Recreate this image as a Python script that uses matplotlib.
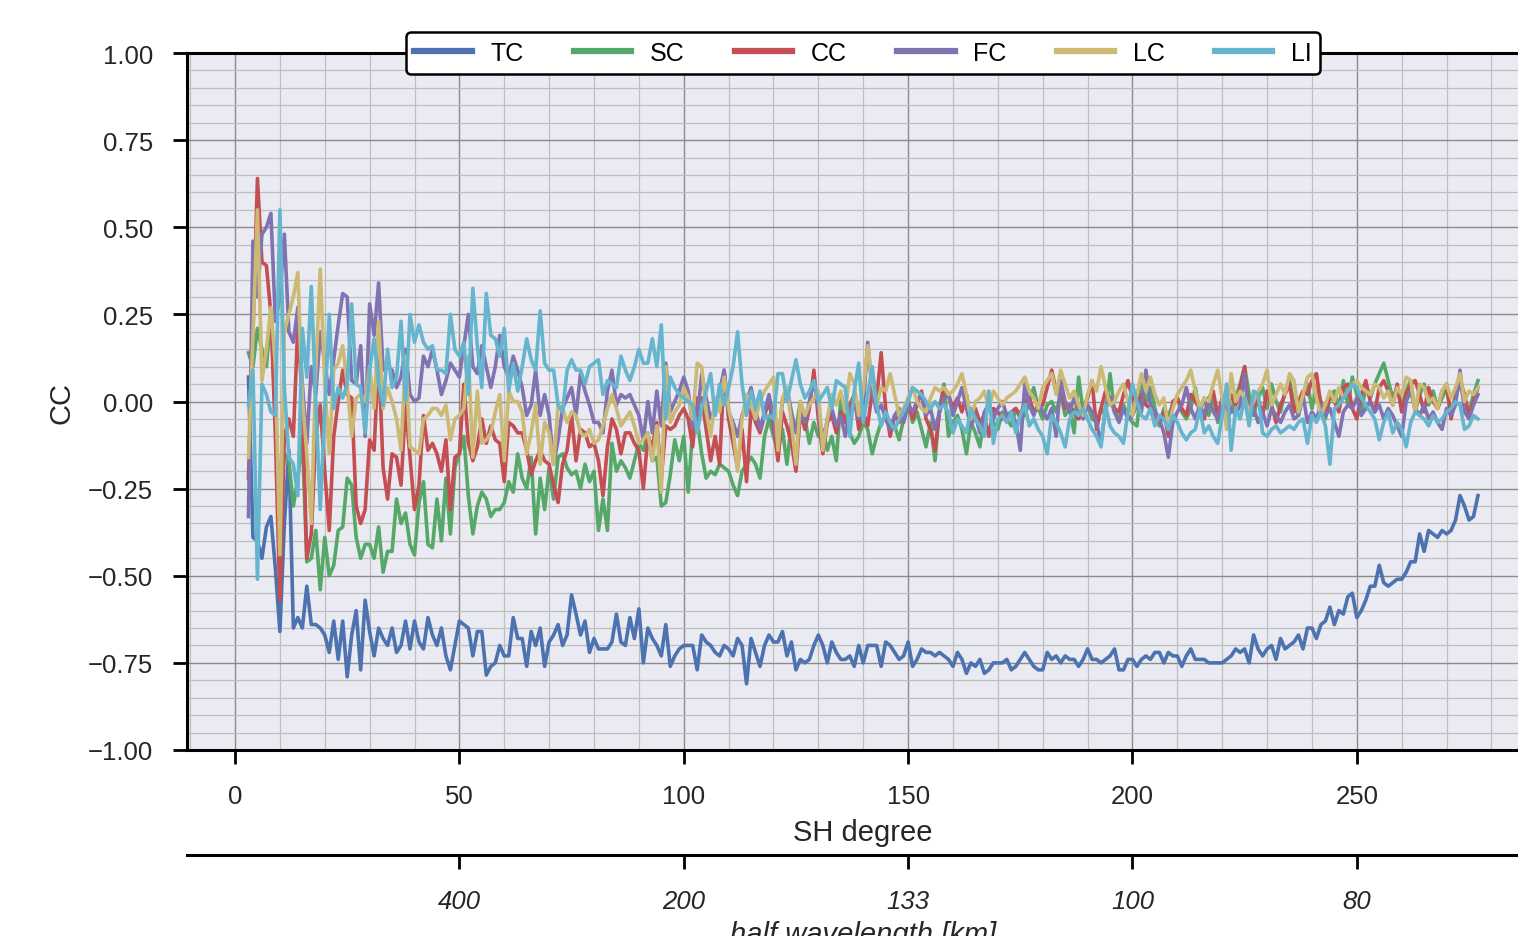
"""Correlation coefficients per SH degree for six geology layers."""
import numpy as np
import matplotlib
matplotlib.use("Agg")
import matplotlib.pyplot as plt
from matplotlib.ticker import MultipleLocator

plt.rcParams["font.family"] = ["Liberation Sans", "DejaVu Sans"]

# ── data ──────────────────────────────────────────────────────────────────────
degree = np.arange(3, 278)

tc = [
    0.07, -0.39, -0.40, -0.45, -0.36, -0.33, -0.48, -0.66, -0.35, -0.14,
    -0.65, -0.62, -0.65, -0.53, -0.64, -0.64, -0.65, -0.67, -0.72, -0.63,
    -0.74, -0.63, -0.79, -0.67, -0.60, -0.77, -0.57, -0.66, -0.73, -0.65,
    -0.68, -0.70, -0.65, -0.72, -0.70, -0.63, -0.71, -0.63, -0.69, -0.71,
    -0.62, -0.67, -0.70, -0.65, -0.73, -0.77, -0.70, -0.63, -0.64, -0.65,
    -0.73, -0.66, -0.66, -0.785, -0.76, -0.75, -0.70, -0.73, -0.73, -0.62,
    -0.68, -0.68, -0.76, -0.66, -0.70, -0.65, -0.76, -0.69, -0.67, -0.64,
    -0.70, -0.67, -0.555, -0.61, -0.67, -0.63, -0.72, -0.68, -0.71, -0.71,
    -0.71, -0.69, -0.61, -0.69, -0.70, -0.62, -0.68, -0.595, -0.75, -0.65,
    -0.68, -0.70, -0.73, -0.64, -0.76, -0.73, -0.71, -0.70, -0.70, -0.70,
    -0.77, -0.67, -0.69, -0.70, -0.72, -0.73, -0.70, -0.71, -0.73, -0.68,
    -0.70, -0.81, -0.68, -0.72, -0.76, -0.70, -0.67, -0.69, -0.69, -0.66,
    -0.73, -0.69, -0.77, -0.74, -0.75, -0.74, -0.70, -0.67, -0.70, -0.75,
    -0.69, -0.72, -0.74, -0.74, -0.73, -0.76, -0.70, -0.75, -0.70, -0.70,
    -0.70, -0.76, -0.69, -0.70, -0.72, -0.74, -0.73, -0.69, -0.76, -0.74,
    -0.71, -0.72, -0.72, -0.73, -0.72, -0.73, -0.74, -0.76, -0.72, -0.74,
    -0.78, -0.75, -0.76, -0.74, -0.78, -0.77, -0.75, -0.75, -0.75, -0.74,
    -0.77, -0.76, -0.74, -0.72, -0.74, -0.76, -0.77, -0.77, -0.72, -0.74,
    -0.73, -0.75, -0.73, -0.74, -0.74, -0.76, -0.74, -0.71, -0.74, -0.74,
    -0.75, -0.74, -0.73, -0.71, -0.77, -0.77, -0.74, -0.74, -0.76, -0.74,
    -0.73, -0.74, -0.72, -0.72, -0.75, -0.72, -0.73, -0.73, -0.76, -0.73,
    -0.71, -0.74, -0.74, -0.74, -0.75, -0.75, -0.75, -0.75, -0.74, -0.73,
    -0.71, -0.72, -0.71, -0.75, -0.67, -0.71, -0.73, -0.71, -0.70, -0.74,
    -0.68, -0.71, -0.70, -0.69, -0.67, -0.71, -0.65, -0.65, -0.68, -0.64,
    -0.63, -0.59, -0.64, -0.60, -0.61, -0.56, -0.55, -0.62, -0.60, -0.57,
    -0.53, -0.53, -0.47, -0.52, -0.53, -0.52, -0.51, -0.51, -0.49, -0.46,
    -0.46, -0.38, -0.43, -0.37, -0.38, -0.39, -0.37, -0.38, -0.37, -0.34,
    -0.27, -0.30, -0.34, -0.33, -0.27,
]

sc = [
    0.14, 0.10, 0.21, 0.15, 0.10, 0.26, -0.04, -0.30, -0.15, -0.17,
    -0.30, -0.22, -0.10, -0.46, -0.45, -0.37, -0.54, -0.39, -0.50, -0.47,
    -0.37, -0.36, -0.22, -0.24, -0.39, -0.45, -0.41, -0.41, -0.45, -0.36,
    -0.49, -0.43, -0.43, -0.28, -0.35, -0.32, -0.41, -0.44, -0.29, -0.23,
    -0.41, -0.42, -0.28, -0.40, -0.22, -0.38, -0.19, -0.15, -0.10, -0.27,
    -0.38, -0.30, -0.26, -0.28, -0.33, -0.31, -0.31, -0.29, -0.23, -0.26,
    -0.15, -0.22, -0.25, -0.16, -0.38, -0.22, -0.31, -0.19, -0.28, -0.16,
    -0.15, -0.19, -0.21, -0.20, -0.25, -0.18, -0.23, -0.20, -0.37, -0.28,
    -0.37, -0.12, -0.20, -0.17, -0.19, -0.22, -0.17, -0.12, -0.14, -0.09,
    -0.17, -0.16, -0.30, -0.29, -0.21, -0.11, -0.17, -0.10, -0.26, -0.08,
    -0.05, -0.15, -0.22, -0.20, -0.21, -0.18, -0.19, -0.20, -0.24, -0.27,
    -0.20, -0.18, -0.16, -0.18, -0.22, -0.10, -0.05, -0.10, -0.14, -0.08,
    -0.18, -0.06, -0.08, 0.00, -0.05, -0.12, -0.06, -0.10, -0.08, -0.14,
    -0.10, -0.17, 0.01, -0.05, -0.09, -0.12, -0.10, -0.06, -0.08, -0.15,
    -0.10, -0.06, -0.04, -0.08, -0.07, -0.11, -0.05, 0.01, -0.06, -0.03,
    -0.08, -0.13, -0.06, -0.17, -0.02, 0.05, -0.10, -0.06, -0.04, -0.08,
    -0.15, -0.06, -0.09, -0.13, -0.04, 0.00, -0.06, -0.08, -0.03, -0.05,
    -0.07, -0.02, -0.05, -0.04, 0.00, 0.04, -0.02, -0.05, -0.01, 0.00,
    -0.03, 0.02, -0.04, -0.02, -0.09, 0.07, -0.03, -0.01, -0.05, -0.06,
    -0.02, -0.04, 0.08, -0.03, -0.05, -0.01, -0.04, -0.06, -0.07, 0.05,
    0.00, 0.04, -0.02, -0.07, -0.02, -0.04, -0.01, 0.01, -0.03, -0.05,
    -0.02, 0.04, -0.03, 0.01, -0.04, 0.02, -0.06, 0.00, 0.03, -0.03,
    0.01, 0.05, 0.10, 0.02, -0.04, 0.01, 0.04, -0.02, 0.05, 0.00,
    -0.03, 0.03, 0.06, -0.01, -0.04, 0.02, 0.05, -0.02, 0.04, 0.00,
    -0.05, 0.01, 0.03, -0.02, 0.06, -0.01, 0.07, 0.02, -0.03, 0.04,
    0.01, 0.05, 0.08, 0.11, 0.06, 0.01, 0.04, -0.02, 0.03, 0.06,
    -0.03, 0.02, 0.05, -0.01, 0.03, -0.02, 0.01, 0.04, -0.04, 0.02,
    0.05, 0.00, -0.03, 0.02, 0.06,
]

cc = [
    -0.22, 0.20, 0.64, 0.40, 0.39, 0.25, -0.10, -0.57, -0.10, -0.05,
    -0.10, 0.22, 0.00, -0.45, -0.38, -0.10, -0.01, -0.20, -0.37, -0.10,
    0.00, 0.09, 0.02, 0.01, -0.30, -0.35, -0.31, -0.11, -0.14, 0.14,
    -0.19, -0.28, -0.15, -0.16, -0.24, -0.01, -0.16, -0.31, -0.24, -0.04,
    -0.14, -0.12, -0.15, -0.20, -0.11, -0.31, -0.16, -0.15, 0.05, -0.12,
    -0.17, -0.13, -0.05, -0.12, -0.07, -0.11, -0.12, -0.23, -0.06, -0.07,
    -0.09, -0.09, -0.14, -0.21, -0.17, -0.14, -0.17, -0.18, -0.24, -0.29,
    -0.18, -0.14, -0.04, -0.17, -0.08, -0.09, -0.13, -0.12, -0.17, -0.27,
    -0.13, -0.05, -0.08, -0.15, -0.09, -0.09, -0.12, -0.14, -0.25, -0.10,
    -0.13, -0.06, -0.22, -0.07, -0.08, -0.07, -0.04, -0.02, -0.05, -0.13,
    0.01, 0.01, -0.08, -0.17, -0.10, -0.18, 0.09, -0.05, -0.12, -0.19,
    -0.08, -0.23, -0.02, -0.06, -0.09, -0.04, 0.00, -0.07, -0.17, -0.03,
    -0.07, -0.12, -0.20, -0.03, -0.08, -0.02, 0.09, -0.05, -0.15, -0.06,
    -0.04, -0.09, -0.03, -0.06, -0.01, 0.02, -0.08, -0.03, -0.07, 0.03,
    0.01, 0.14, -0.02, -0.10, -0.04, -0.06, -0.02, 0.00, -0.05, -0.01,
    0.03, -0.05, -0.08, -0.14, -0.03, 0.04, 0.02, -0.02, 0.01, -0.03,
    0.02, -0.05, -0.02, -0.06, -0.04, -0.10, -0.02, -0.03, -0.05, -0.04,
    -0.03, -0.02, -0.04, 0.00, 0.01, -0.03, -0.02, -0.01, 0.04, 0.09,
    0.03, 0.05, -0.02, -0.01, -0.03, -0.05, -0.02, 0.01, 0.06, -0.08,
    -0.02, 0.03, 0.01, -0.02, -0.03, 0.02, 0.06, 0.01, -0.01, 0.02,
    -0.01, -0.02, -0.04, -0.06, -0.03, -0.10, 0.00, 0.01, -0.02, -0.04,
    0.02, 0.00, -0.02, -0.05, 0.01, 0.03, -0.04, 0.01, -0.03, 0.02,
    -0.01, 0.04, 0.10, -0.05, -0.02, 0.01, -0.04, 0.03, -0.01, -0.06,
    -0.01, 0.02, 0.05, -0.03, 0.00, 0.03, 0.02, 0.06, 0.08, -0.01,
    -0.04, 0.02, 0.00, -0.03, 0.04, 0.05, -0.02, -0.05, 0.02, 0.06,
    0.00, -0.03, 0.04, 0.06, 0.03, -0.01, 0.05, -0.03, 0.02, 0.05,
    0.06, 0.02, -0.03, 0.04, 0.00, -0.02, 0.03, 0.05, -0.05, 0.01,
    0.06, 0.02, -0.04, 0.00, 0.04,
]

fc = [
    -0.33, 0.46, 0.30, 0.48, 0.50, 0.54, 0.23, 0.30, 0.48, 0.20,
    0.17, 0.27, 0.05, -0.12, 0.10, 0.02, 0.20, 0.11, 0.02, 0.12,
    0.22, 0.31, 0.30, 0.06, 0.05, 0.16, -0.10, 0.28, 0.19, 0.34,
    0.09, 0.10, 0.09, 0.04, 0.07, 0.15, 0.02, 0.00, 0.01, 0.13,
    0.10, 0.15, 0.09, 0.02, 0.06, 0.11, 0.09, 0.07, 0.16, 0.25,
    0.10, 0.08, 0.16, 0.10, 0.04, 0.10, 0.19, 0.10, 0.07, 0.13,
    0.09, 0.04, -0.04, -0.01, 0.09, -0.04, 0.02, -0.04, -0.18, -0.11,
    -0.02, 0.01, 0.04, -0.04, 0.08, 0.03, -0.01, -0.06, -0.06, -0.09,
    0.03, 0.09, -0.01, 0.02, 0.01, 0.02, -0.01, -0.04, -0.11, 0.00,
    -0.09, 0.03, -0.07, 0.11, -0.03, 0.00, 0.03, 0.07, 0.03, -0.07,
    -0.05, 0.08, 0.01, -0.05, -0.02, 0.03, 0.09, -0.03, -0.06, -0.10,
    -0.04, 0.00, 0.04, -0.02, -0.08, -0.03, 0.02, -0.05, -0.13, 0.00,
    0.04, -0.03, -0.09, -0.04, -0.06, 0.00, 0.06, -0.02, -0.13, -0.05,
    -0.02, -0.07, -0.04, -0.10, -0.03, 0.00, -0.05, -0.02, 0.17, 0.03,
    -0.03, -0.01, -0.05, -0.08, -0.04, -0.02, -0.06, -0.01, -0.03, 0.00,
    0.02, -0.04, -0.02, -0.08, -0.03, 0.01, 0.02, -0.04, 0.00, 0.04,
    -0.02, -0.07, -0.04, -0.09, -0.03, -0.01, -0.05, -0.02, 0.00, -0.04,
    -0.03, -0.06, -0.14, 0.05, -0.01, -0.04, 0.00, -0.03, -0.05, -0.02,
    -0.10, 0.06, 0.00, -0.03, 0.01, -0.02, -0.05, -0.01, -0.03, -0.06,
    -0.12, -0.02, 0.01, -0.03, -0.06, -0.02, -0.05, -0.04, -0.01, -0.03,
    0.09, -0.01, -0.03, -0.05, -0.09, -0.16, -0.06, -0.03, -0.01, 0.04,
    -0.02, -0.05, -0.01, -0.04, 0.01, -0.03, -0.05, 0.00, -0.06, -0.02,
    -0.04, -0.01, 0.08, -0.05, -0.02, -0.06, -0.03, -0.07, -0.02, -0.04,
    -0.06, -0.03, -0.01, -0.05, -0.04, 0.02, -0.06, -0.03, -0.05, -0.01,
    -0.04, -0.02, -0.06, -0.10, -0.03, -0.01, -0.02, 0.01, -0.04, -0.02,
    0.00, -0.03, -0.01, -0.05, -0.02, -0.04, -0.07, -0.10, 0.00, 0.03,
    -0.02, -0.04, -0.01, -0.05, -0.03, -0.06, -0.08, -0.02, -0.04, -0.01,
    0.09, -0.03, -0.05, -0.01, 0.02,
]

lc = [
    -0.16, 0.19, 0.55, 0.06, 0.15, 0.27, 0.10, -0.44, 0.20, 0.25,
    0.30, 0.37, 0.01, -0.15, -0.35, 0.09, 0.38, 0.05, -0.15, 0.09,
    0.11, 0.16, 0.05, -0.10, 0.01, 0.02, 0.00, 0.10, -0.02, 0.23,
    -0.02, 0.04, 0.00, -0.05, -0.14, 0.13, -0.13, -0.14, -0.15, -0.05,
    -0.04, -0.02, -0.02, -0.04, -0.01, -0.11, -0.05, -0.04, -0.02, 0.13,
    -0.16, 0.03, -0.12, -0.11, -0.09, -0.03, 0.02, -0.17, 0.03, 0.00,
    0.00, -0.03, -0.15, -0.09, -0.01, -0.18, -0.06, -0.09, -0.18, -0.01,
    -0.02, -0.06, -0.03, -0.04, -0.09, -0.10, -0.08, -0.12, -0.11, -0.07,
    -0.02, 0.02, -0.02, -0.07, -0.05, -0.03, -0.07, -0.12, -0.11, -0.09,
    -0.17, -0.07, -0.26, 0.10, -0.06, -0.03, -0.01, 0.04, 0.01, -0.05,
    0.11, 0.10, -0.03, -0.10, 0.01, -0.03, 0.07, -0.02, -0.08, -0.20,
    -0.05, 0.02, -0.01, -0.05, 0.00, 0.03, 0.05, 0.07, -0.14, 0.01,
    0.04, -0.06, -0.18, 0.00, -0.04, -0.01, 0.01, 0.03, -0.14, -0.05,
    0.02, -0.01, 0.03, -0.03, 0.08, 0.05, -0.04, 0.03, 0.16, 0.06,
    -0.01, 0.04, 0.03, 0.08, 0.02, -0.04, -0.02, 0.01, 0.04, 0.00,
    -0.02, -0.03, 0.01, 0.04, 0.03, 0.04, 0.02, 0.03, 0.05, 0.08,
    0.02, -0.05, 0.00, 0.01, 0.03, -0.02, 0.03, 0.01, -0.01, 0.01,
    0.02, 0.03, 0.05, 0.07, 0.03, 0.01, -0.02, 0.04, 0.06, 0.08,
    0.02, 0.09, 0.05, 0.01, 0.03, -0.01, -0.04, 0.02, 0.06, 0.03,
    0.10, 0.04, -0.01, 0.00, 0.03, 0.05, 0.00, -0.04, 0.02, 0.08,
    0.03, 0.07, 0.02, -0.01, 0.01, -0.08, -0.02, 0.02, 0.04, 0.06,
    0.09, 0.03, -0.02, 0.01, 0.00, 0.05, 0.09, 0.01, -0.08, 0.08,
    0.00, 0.03, 0.01, -0.03, 0.00, 0.03, 0.05, 0.09, -0.01, 0.02,
    0.05, 0.02, 0.08, 0.06, -0.03, 0.02, 0.07, 0.08, 0.01, -0.04,
    -0.01, 0.03, 0.00, 0.04, 0.01, 0.03, 0.05, 0.06, 0.04, 0.03,
    0.02, 0.05, 0.04, 0.01, 0.03, -0.01, 0.04, 0.02, 0.07, 0.06,
    -0.03, 0.05, 0.04, 0.00, 0.01, -0.02, 0.03, 0.05, 0.01, 0.04,
    0.08, 0.00, 0.03, 0.02, 0.04,
]

li = [
    -0.01, 0.09, -0.51, 0.05, 0.02, -0.03, -0.04, 0.55, 0.04, -0.16,
    -0.18, -0.27, 0.21, 0.07, 0.33, 0.00, -0.31, -0.02, 0.25, -0.02,
    0.04, 0.01, 0.05, 0.28, 0.05, 0.04, -0.09, 0.09, 0.18, 0.05,
    -0.01, 0.15, 0.04, 0.07, 0.23, 0.00, 0.25, 0.17, 0.22, 0.17,
    0.15, 0.16, 0.09, 0.09, 0.08, 0.25, 0.15, 0.13, 0.17, 0.02,
    0.325, 0.16, 0.04, 0.31, 0.19, 0.18, 0.13, 0.21, 0.03, 0.11,
    0.03, 0.10, 0.18, 0.12, 0.09, 0.26, 0.11, 0.09, 0.09, -0.01,
    -0.03, 0.09, 0.12, 0.09, 0.09, 0.05, 0.10, 0.11, 0.12, 0.02,
    0.06, 0.05, 0.04, 0.13, 0.09, 0.06, 0.10, 0.15, 0.11, 0.11,
    0.18, 0.10, 0.22, -0.05, 0.07, 0.04, 0.02, 0.01, 0.00, -0.01,
    -0.09, -0.02, 0.03, 0.08, -0.04, 0.05, -0.01, 0.04, 0.10, 0.20,
    0.05, -0.04, 0.03, -0.02, 0.03, -0.05, -0.04, -0.05, 0.08, 0.08,
    0.00, 0.06, 0.12, 0.05, 0.01, 0.03, 0.06, 0.00, 0.02, 0.04,
    -0.02, 0.06, 0.05, 0.04, -0.10, 0.03, 0.11, -0.06, 0.02, 0.10,
    -0.01, -0.07, -0.03, -0.06, -0.08, -0.05, -0.03, 0.00, 0.04, 0.03,
    0.02, 0.00, -0.02, 0.00, -0.02, -0.01, -0.03, -0.09, -0.05, -0.07,
    -0.09, -0.02, -0.05, -0.07, -0.10, 0.03, -0.12, -0.05, -0.04, -0.06,
    -0.03, -0.09, -0.04, -0.01, -0.07, -0.05, -0.08, -0.10, -0.15, -0.04,
    -0.06, -0.09, -0.13, -0.05, -0.03, -0.04, -0.02, -0.05, -0.08, -0.10,
    -0.13, -0.01, -0.07, -0.09, -0.10, -0.12, -0.03, 0.05, 0.00, -0.04,
    -0.05, -0.02, -0.07, -0.04, -0.05, -0.08, -0.04, -0.06, -0.09, -0.11,
    -0.09, -0.08, -0.02, -0.09, -0.07, -0.10, -0.12, -0.04, 0.05, -0.14,
    -0.02, -0.05, 0.01, -0.07, 0.03, 0.02, -0.09, -0.10, -0.08, -0.07,
    -0.09, -0.08, -0.07, -0.08, -0.06, -0.05, -0.12, -0.04, -0.06, -0.03,
    -0.07, -0.18, -0.02, -0.01, 0.01, 0.03, 0.05, 0.04, 0.01, -0.01,
    -0.03, -0.05, -0.11, -0.06, -0.03, -0.09, -0.06, -0.08, -0.13, -0.06,
    -0.03, -0.04, -0.05, -0.07, -0.04, -0.06, -0.05, -0.03, -0.02, 0.00,
    -0.01, -0.08, -0.07, -0.04, -0.05,
]

labels = ["TC", "SC", "CC", "FC", "LC", "LI"]
colors = ["#4C72B0", "#55A868", "#C44E52", "#8172B2", "#CCB974", "#64B5CD"]

wl_ticks = [50, 100, 150, 200, 250]
wl_labels = ["400", "200", "133", "100", "80"]

# ── figure ────────────────────────────────────────────────────────────────────
fig = plt.figure(figsize=(15.18, 9.37), dpi=100)
ax = fig.add_axes([187 / 1518, 186 / 937, 1352 / 1518, 697 / 937])
ax.set_facecolor("#EAEAF2")

for vals, name, col in zip([tc, sc, cc, fc, lc, li], labels, colors):
    ax.plot(degree, vals, color=col, lw=2.6, label=name, zorder=3)

ax.set_xlim(-10.7, 290.6)
ax.set_ylim(-1.0, 1.0)
ax.xaxis.set_major_locator(MultipleLocator(50))
ax.xaxis.set_minor_locator(MultipleLocator(10))
ax.yaxis.set_major_locator(MultipleLocator(0.25))
ax.yaxis.set_minor_locator(MultipleLocator(0.05))
ax.yaxis.set_major_formatter(lambda v, pos: f"{v:.2f}".replace("-", "\u2212"))

ax.grid(which="major", color="#8A8A8A", lw=1.0, zorder=0)
ax.grid(which="minor", color="#BEBEBE", lw=0.9, zorder=0)
ax.set_axisbelow(True)

ax.tick_params(which="major", length=10, width=2.0, pad=14.5, labelsize=18.5,
               labelcolor="#262626", color="black")
ax.tick_params(which="minor", length=0)
for side in ["left", "bottom", "top", "right"]:
    ax.spines[side].set_color("black")
    ax.spines[side].set_linewidth(2.2)

ax.set_xlabel("SH degree", fontsize=21, color="#262626", labelpad=7)
ax.set_ylabel("CC", fontsize=21, color="#262626", labelpad=9)

# half-wavelength axis below
sec = ax.secondary_xaxis(-0.15)
sec.set_xticks(wl_ticks, labels=wl_labels, fontstyle="italic")
sec.tick_params(length=10, width=2.0, pad=14.5, labelsize=18.5,
                labelcolor="#262626", color="black")
sec.spines["bottom"].set_linewidth(2.2)
sec.set_xlabel("half wavelength [km]", fontsize=21, fontstyle="italic",
               color="#262626", labelpad=5)

leg = ax.legend(loc="center", bbox_to_anchor=(0.5, 1.0), ncol=6, fontsize=18,
                frameon=True, fancybox=True, framealpha=1.0, edgecolor="black",
                handlelength=2.3, handletextpad=0.75, columnspacing=2.0,
                borderpad=0.35)
leg.get_frame().set_linewidth(1.8)
leg.set_zorder(5)
for line in leg.get_lines():
    line.set_linewidth(4.5)

fig.savefig("out.png", dpi=100)
